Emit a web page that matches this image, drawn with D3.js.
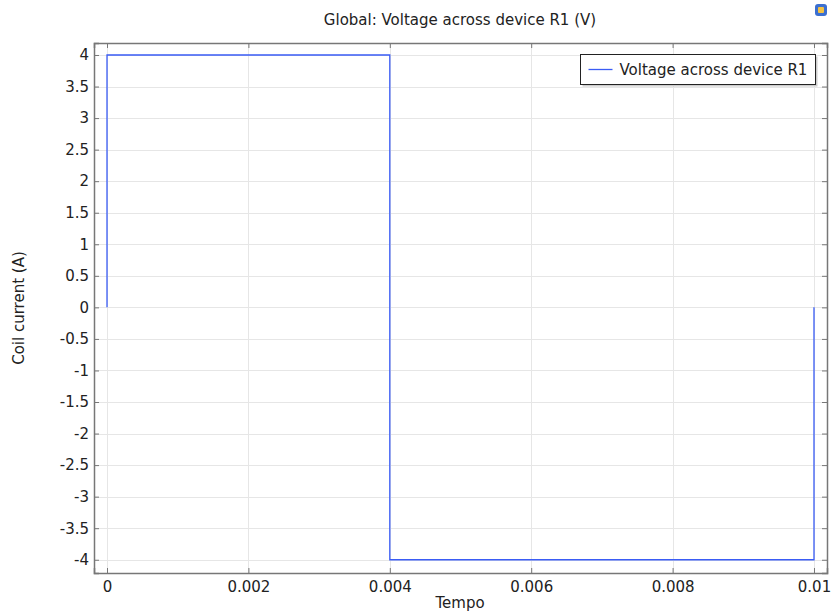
<!DOCTYPE html>
<html>
<head>
  <meta charset='utf-8'>
  <title>Voltage across device R1</title>
  <script src='https://cdn.jsdelivr.net/npm/d3@7'></script>
  <style>
    body { margin: 0; background: #fff; }
    text { font-family: 'DejaVu Sans', sans-serif; fill: #222; }
  </style>
</head>
<body>
  <script>
    // step waveform
    const times = [0, 0, 0.004, 0.004, 0.01, 0.01];
    const volts = [0, 4, 4, -4, -4, 0];
    const xTicks = [0, 0.002, 0.004, 0.006, 0.008, 0.01];
    const yTicks = d3.range(-4, 4.01, 0.5);
    const seriesName = 'Voltage across device R1';

    const width = 832, height = 615;
    const margin = { top: 43, right: 5, bottom: 42, left: 94 };
    const fs = 15;

    const svg = d3.select('body').append('svg')
      .attr('width', width)
      .attr('height', height);

    const x = d3.scaleLinear()
      .domain([-0.000184, 0.010184])
      .range([margin.left, width - margin.right]);
    const y = d3.scaleLinear()
      .domain([-4.21, 4.19])
      .range([height - margin.bottom, margin.top]);

    const x0 = margin.left, x1 = width - margin.right;
    const y0 = height - margin.bottom, y1 = margin.top;

    // grid
    const grid = svg.append('g').attr('stroke', '#e6e6e6').attr('stroke-width', 1);
    grid.selectAll('.gx').data(xTicks).join('line')
      .attr('x1', d => Math.round(x(d)) + 0.5).attr('x2', d => Math.round(x(d)) + 0.5)
      .attr('y1', y1).attr('y2', y0);
    grid.selectAll('.gy').data(yTicks).join('line')
      .attr('y1', d => Math.round(y(d)) + 0.5).attr('y2', d => Math.round(y(d)) + 0.5)
      .attr('x1', x0).attr('x2', x1);

    // axes (ticks on all four sides, pointing inward)
    const fmt = d => String(+d.toFixed(4));
    svg.append('g')
      .attr('transform', `translate(0,${y0})`)
      .call(d3.axisBottom(x).tickValues(xTicks).tickSize(-5).tickPadding(8).tickFormat(fmt));
    svg.append('g')
      .attr('transform', `translate(0,${y1})`)
      .call(d3.axisTop(x).tickValues(xTicks).tickSize(-5).tickFormat(''));
    svg.append('g')
      .attr('transform', `translate(${x0},0)`)
      .call(d3.axisLeft(y).tickValues(yTicks).tickSize(-5).tickPadding(5).tickFormat(fmt));
    svg.append('g')
      .attr('transform', `translate(${x1},0)`)
      .call(d3.axisRight(y).tickValues(yTicks).tickSize(-5).tickFormat(''));

    svg.selectAll('.domain').attr('stroke', '#777').attr('stroke-width', 1.5);
    svg.selectAll('.tick line').attr('stroke', '#777');
    svg.selectAll('.tick text').attr('font-size', fs).attr('fill', '#222')
      .style('font-family', "'DejaVu Sans', sans-serif");

    // series
    const line = d3.line().x((d, i) => x(times[i])).y(d => y(d));
    svg.append('path')
      .datum(volts)
      .attr('fill', 'none')
      .attr('stroke', '#3a5cf5')
      .attr('stroke-width', 1.3)
      .attr('d', line);

    // legend
    const lg = svg.append('g').attr('transform', 'translate(580.5,54.5)');
    lg.append('rect').attr('x', 2).attr('y', 2).attr('width', 235).attr('height', 30).attr('fill', '#ccc');
    lg.append('rect').attr('width', 235).attr('height', 30).attr('fill', '#fff').attr('stroke', '#222');
    lg.append('line').attr('x1', 8).attr('x2', 32).attr('y1', 15).attr('y2', 15)
      .attr('stroke', '#3a5cf5').attr('stroke-width', 1.3);
    lg.append('text').attr('x', 39).attr('y', 20.5).attr('font-size', fs).text(seriesName);

    // titles
    svg.append('text').attr('x', 460).attr('y', 25).attr('text-anchor', 'middle')
      .attr('font-size', fs).text('Global: Voltage across device R1 (V)');
    svg.append('text').attr('x', 460).attr('y', 608).attr('text-anchor', 'middle')
      .attr('font-size', fs).text('Tempo');
    svg.append('text')
      .attr('transform', `translate(24,${(y0 + y1) / 2}) rotate(-90)`)
      .attr('text-anchor', 'middle').attr('font-size', fs).text('Coil current (A)');

    // small app icon top right
    const ic = svg.append('g').attr('transform', 'translate(815,4)');
    ic.append('rect').attr('width', 12).attr('height', 12).attr('rx', 3).attr('fill', '#3b6fd0');
    ic.append('rect').attr('x', 3).attr('y', 3).attr('width', 6).attr('height', 6).attr('rx', 1).attr('fill', '#f5c242');
  </script>
</body>
</html>
